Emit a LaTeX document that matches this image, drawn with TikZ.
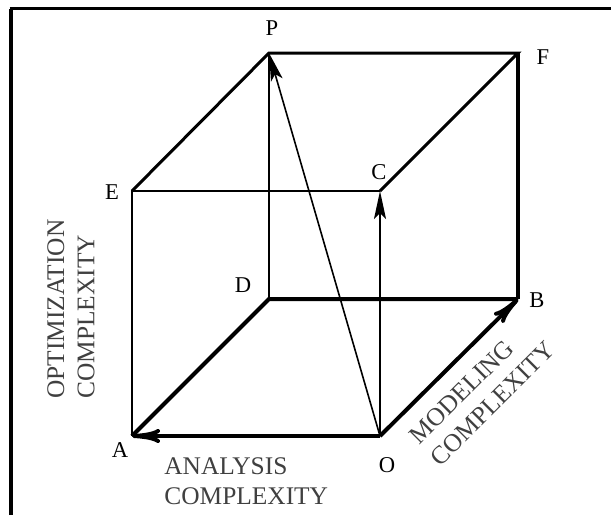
\documentclass[tikz,border=0pt]{standalone}
\usepackage{fontspec}
\setmainfont{Liberation Serif}
\usepackage{tikz}
\usetikzlibrary{arrows.meta}

\begin{document}
\begin{tikzpicture}[x=0.5pt,y=-0.5pt,
    thin edge/.style={line width=1pt},
    mid edge/.style={line width=1.5pt},
    bold edge/.style={line width=2pt},
    corner/.style={font=\fontsize{11.3}{13}\selectfont},
    axislabel/.style={text=black!75,align=left,inner sep=0pt,
      font=\fontsize{12.7}{15.2}\selectfont},
    barb/.style={-{To[length=14pt,width=7pt]}},
    spike/.style={-{Stealth[length=14pt,width=6pt,inset=3pt]}}]
  \useasboundingbox (0,0) rectangle (611,515);
  \draw[line width=2pt] (10.5,515) -- (10.5,8.5);
  \draw[line width=1.5pt] (9.5,8.5) -- (611,8.5);
  \coordinate (A) at (132,436);
  \coordinate (O) at (380,436);
  \coordinate (B) at (518,299);
  \coordinate (D) at (269,299);
  \coordinate (E) at (132,191);
  \coordinate (C) at (380,191);
  \coordinate (P) at (269,53);
  \coordinate (F) at (518,53);
  \draw[thin edge] (A) -- (E) -- (C);
  \draw[thin edge] (D) -- (P);
  \draw[mid edge] (E) -- (P) -- (F) -- (C);
  \draw[bold edge] (A) -- (D) -- (B);
  \draw[line width=2.4pt] (B) -- (F);
  \draw[bold edge,barb] (O) -- (A);
  \draw[bold edge,barb] (O) -- (B);
  \draw[thin edge,spike] (O) -- (C);
  \draw[line width=0.8pt,spike] (O) -- (P);
  \node[corner] (lA) at (120,450) {A};
  \node[corner] (lO) at (387,465) {O};
  \node[corner] (lB) at (537,300) {B};
  \node[corner] (lD) at (243,285) {D};
  \node[corner] (lE) at (112,192) {E};
  \node[corner] (lC) at (379,172) {C};
  \node[corner] (lP) at (272,28) {P};
  \node[corner] (lF) at (543,57) {F};
  \node[axislabel,anchor=west] (analysis) at (164,481) {ANALYSIS\\COMPLEXITY};
  \node[axislabel,anchor=west,rotate=90] (optim) at (71,399) {OPTIMIZATION\\COMPLEXITY};
  \node[axislabel,anchor=west,rotate=45] (model) at (424,451) {MODELING\\COMPLEXITY};
\end{tikzpicture}
\end{document}
